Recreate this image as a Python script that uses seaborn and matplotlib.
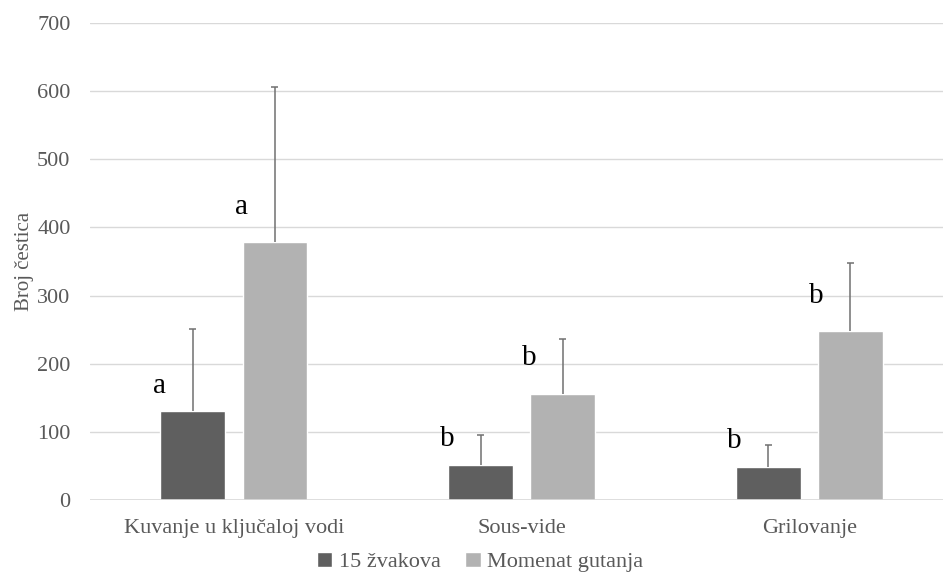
import numpy as np
import pandas as pd
import matplotlib
matplotlib.use("Agg")
import matplotlib.pyplot as plt
import seaborn as sns
from matplotlib.patches import Patch

# podaci procitani sa grafikona
metode = ["Kuvanje u ključaloj vodi", "Sous-vide", "Grilovanje"]
serije = ["15 žvakova", "Momenat gutanja"]
vrednosti_15 = [130, 52, 49]
vrednosti_gut = [378, 156, 248]
greska_15 = [121, 43, 31]
greska_gut = [228, 81, 100]
slova_15 = ["a", "b", "b"]
slova_gut = ["a", "b", "b"]

df = pd.DataFrame({
    "metoda": metode * 2,
    "serija": [serije[0]] * 3 + [serije[1]] * 3,
    "broj": vrednosti_15 + vrednosti_gut,
})

sns.set_theme(style="white")
plt.rcParams["font.family"] = ["Liberation Serif", "DejaVu Serif"]
tekst = "#595959"

fig = plt.figure(figsize=(9.43, 5.75), dpi=100)
ax = fig.add_axes([90 / 943, 75 / 575, 1 - 90 / 943, 477 / 575])

sns.barplot(data=df, x="metoda", y="broj", hue="serija", order=metode,
            hue_order=serije, palette=["#5f5f5f", "#b2b2b2"], width=0.57,
            gap=0.21, errorbar=None, saturation=1, ax=ax, legend=False)

# gornje greske (samo plus, kao u Excelu)
sve_greske = greska_15 + greska_gut
sva_slova = slova_15 + slova_gut
pomaci = [38] * 3 + [52] * 3
kapa = 0.012
for p, g, s, d in zip(ax.patches, sve_greske, sva_slova, pomaci):
    xc = p.get_x() + p.get_width() / 2
    h = p.get_height()
    ax.vlines(xc, h, h + g, color="#707070", linewidth=1.1, zorder=3)
    ax.hlines(h + g, xc - kapa, xc + kapa, color="#707070", linewidth=1.1, zorder=3)
    ax.text(p.get_x() - 0.005, h + d, s, ha="center", va="center",
            fontsize=21, color="black")

ax.set_ylim(0, 700)
ax.set_xlim(-0.5, 2.464)
ax.set_yticks(range(0, 701, 100))
ax.yaxis.grid(True, color="#d9d9d9", linewidth=1)
ax.set_axisbelow(True)
for s in ax.spines.values():
    s.set_visible(False)
ax.axhline(0, color="#d9d9d9", linewidth=1.2, zorder=1)
ax.tick_params(axis="both", length=0, labelsize=16, labelcolor=tekst)
ax.tick_params(axis="y", pad=14)
ax.tick_params(axis="x", pad=14)
ax.set_xlabel("")
ax.set_ylabel("Broj čestica", fontsize=15, color=tekst, labelpad=2)

ruke = [Patch(facecolor="#5f5f5f"), Patch(facecolor="#b2b2b2")]
fig.legend(ruke, serije, loc="center", bbox_to_anchor=(480 / 943, 1 - 562 / 575),
           ncol=2, frameon=False, fontsize=16, labelcolor=tekst,
           handlelength=0.7, handleheight=0.7, handletextpad=0.3,
           columnspacing=1.1)

fig.savefig("out.png", dpi=100)
